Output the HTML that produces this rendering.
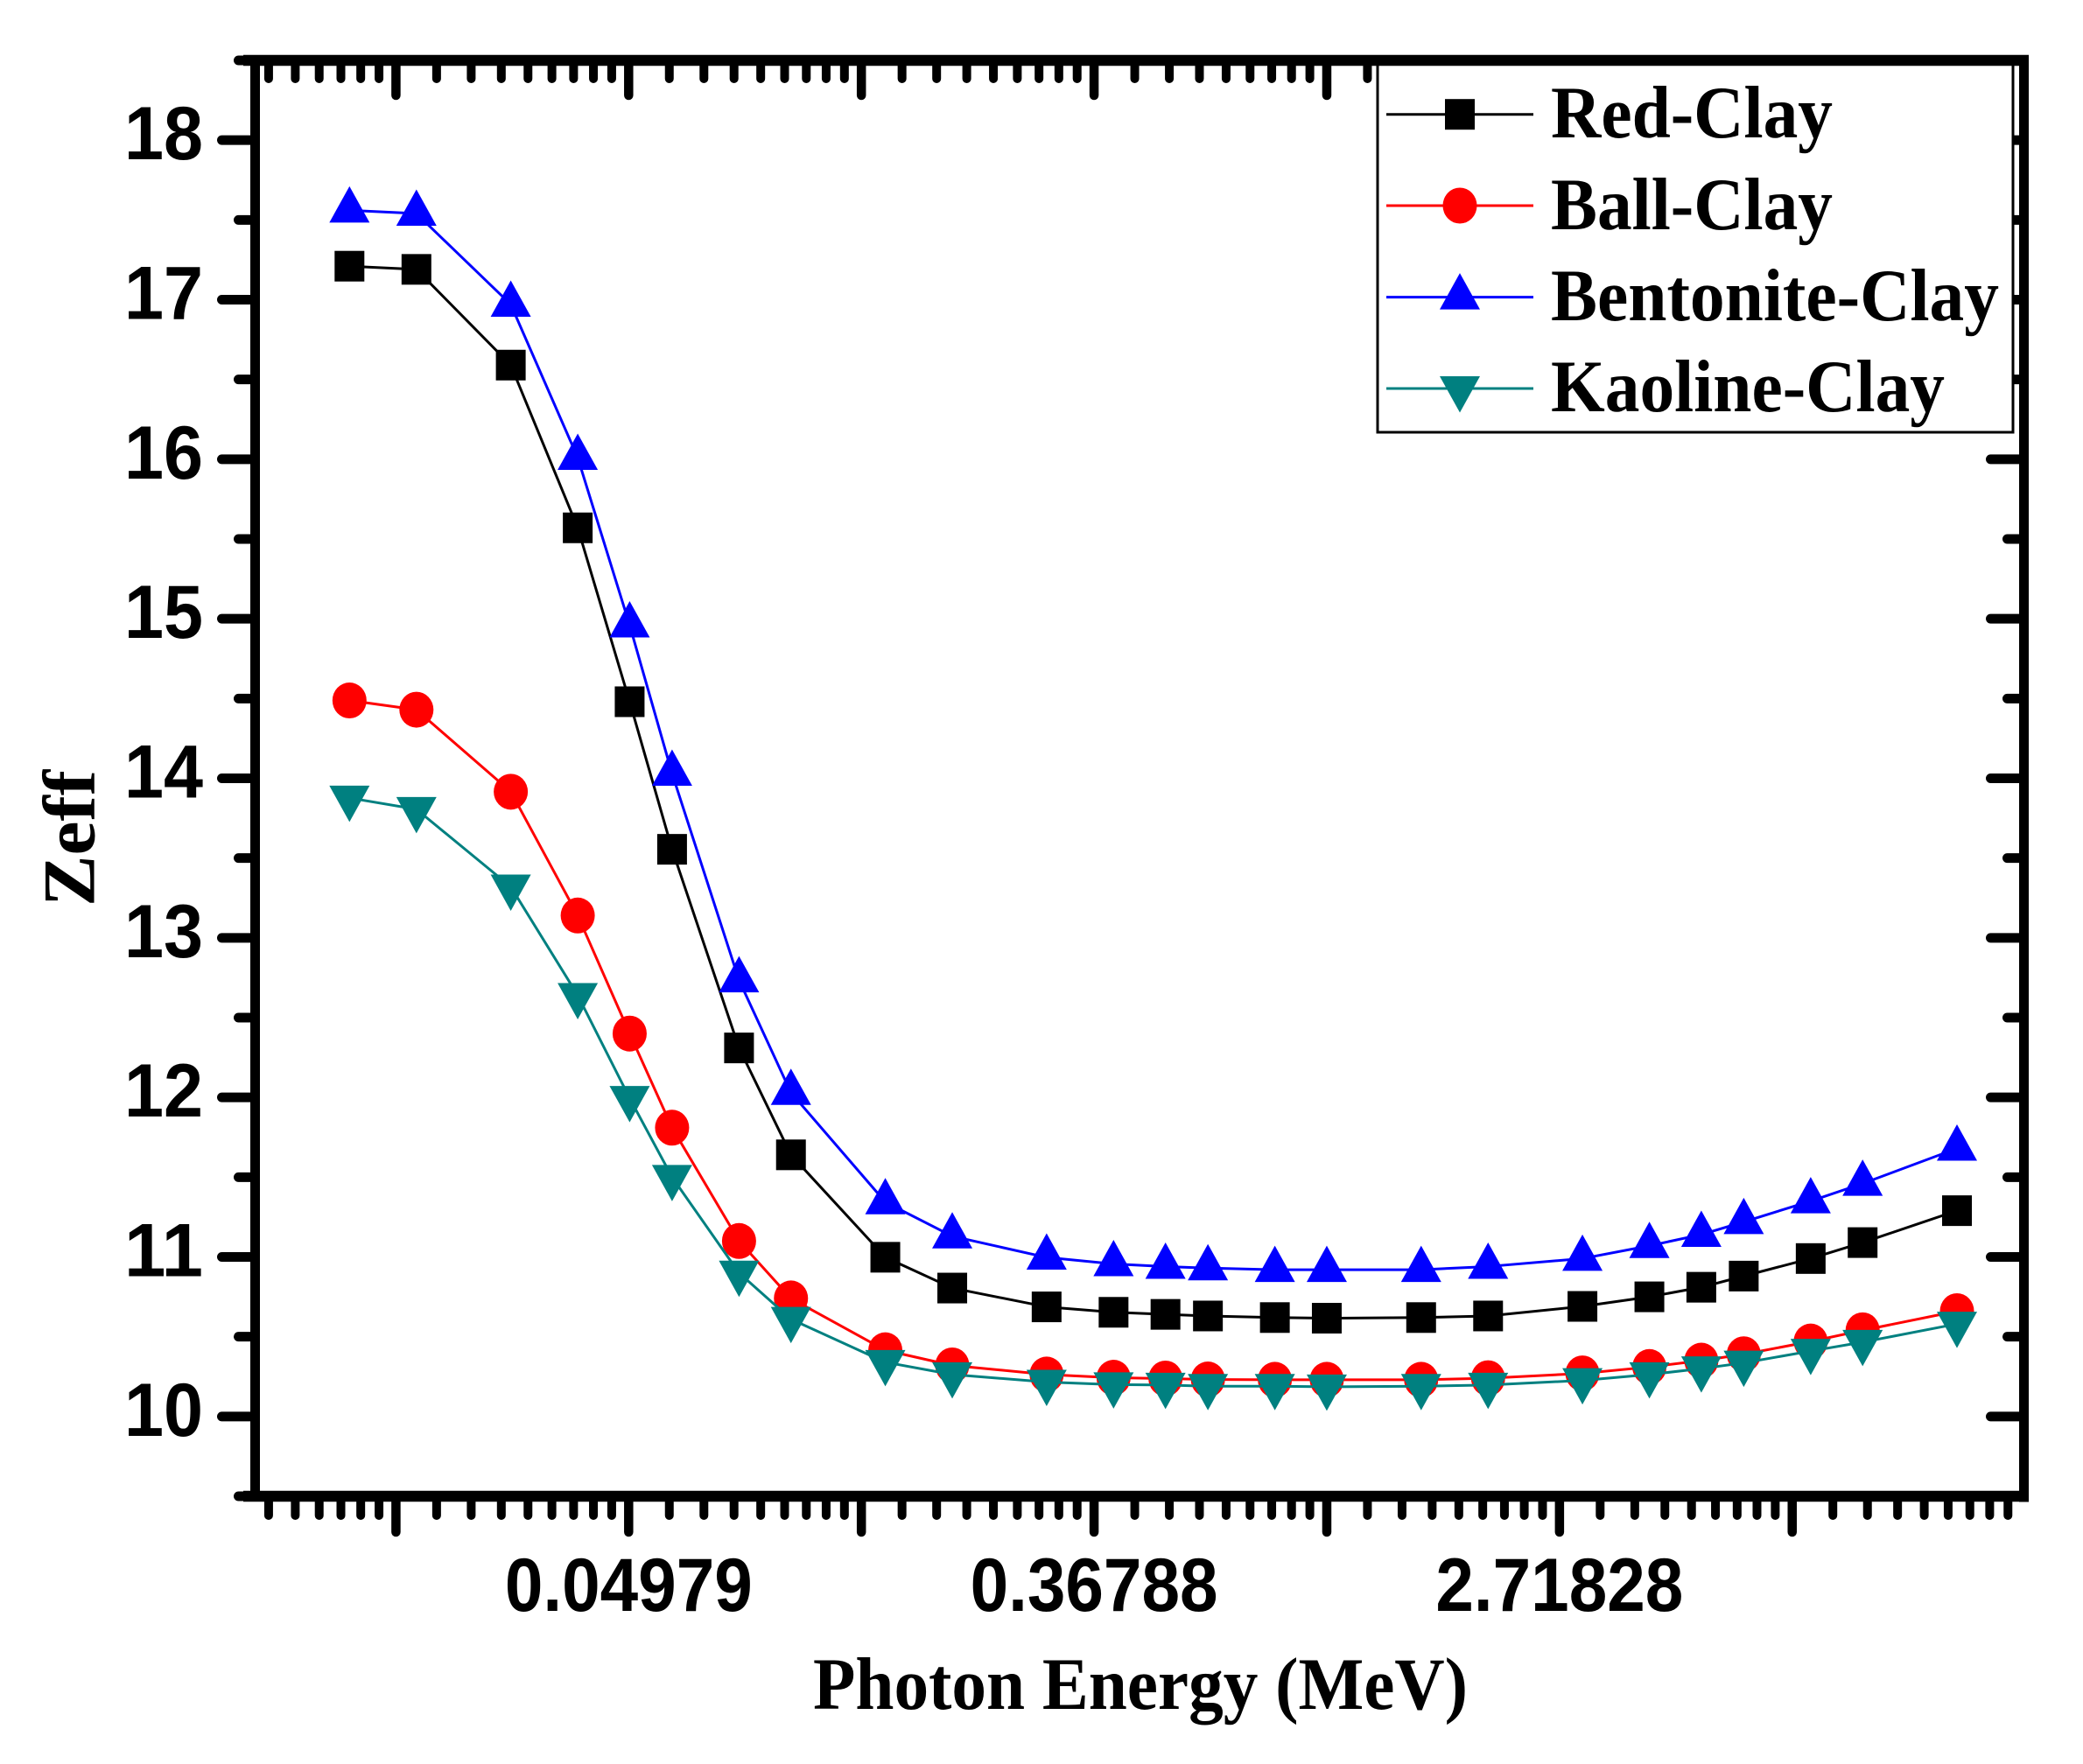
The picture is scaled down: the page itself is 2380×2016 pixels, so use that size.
<!DOCTYPE html>
<html lang="en">
<head>
<meta charset="utf-8">
<title>Zeff vs Photon Energy</title>
<style>
  html, body { margin: 0; padding: 0; background: #fff; }
  svg { display: block; }
  .serif { font-family: "Liberation Serif", serif; font-weight: 700; fill: #000; }
  .sans { font-family: "Liberation Sans", sans-serif; font-weight: 700; fill: #000; }
</style>
</head>
<body>
<svg id="chart" xmlns="http://www.w3.org/2000/svg" width="2380" height="2016" viewBox="0 0 2380 2016">
  <rect x="0" y="0" width="2380" height="2016" fill="#ffffff"/>
  <g id="ticks"></g>
  <g id="tick-labels"></g>
  <g id="series"></g>
  <g id="legend">
    <rect x="1574" y="72" width="726" height="422" fill="#ffffff" stroke="#000000" stroke-width="3"/>
    <text class="serif" x="1772" y="157" font-size="85" textLength="322" lengthAdjust="spacingAndGlyphs">Red-Clay</text>
    <text class="serif" x="1772" y="262" font-size="85" textLength="322" lengthAdjust="spacingAndGlyphs">Ball-Clay</text>
    <text class="serif" x="1772" y="366" font-size="85" textLength="512" lengthAdjust="spacingAndGlyphs">Bentonite-Clay</text>
    <text class="serif" x="1772" y="470" font-size="85" textLength="450" lengthAdjust="spacingAndGlyphs">Kaoline-Clay</text>
  </g>
  <g id="frame"></g>
  <text class="serif" x="929" y="1953" font-size="85" textLength="748" lengthAdjust="spacingAndGlyphs">Photon Energy (MeV)</text>
  <text class="serif" transform="translate(107.5,1036) rotate(-90)" x="0" y="0" font-size="85" textLength="156" lengthAdjust="spacingAndGlyphs">Zeff</text>
</svg>
<script>
// ---- chart data ----
const energies = [0.015,0.02,0.03,0.04,0.05,0.06,0.08,0.1,0.15,0.2,0.3,0.4,0.5,0.6,0.8,1,1.5,2,3,4,5,6,8,10,15];
const redClay = [17.21,17.19,16.59,15.57,14.48,13.555,12.31,11.64,10.998,10.805,10.687,10.653,10.64,10.63,10.62,10.616,10.62,10.63,10.69,10.75,10.81,10.88,10.99,11.09,11.29];
const ballClay = [14.488,14.43,13.916,13.14,12.40,11.81,11.10,10.74,10.415,10.32,10.263,10.243,10.238,10.232,10.23,10.23,10.23,10.24,10.27,10.31,10.35,10.39,10.47,10.54,10.66];
const bentoniteClay = [17.56,17.54,16.97,16.01,14.96,14.03,12.735,12.03,11.344,11.13,10.997,10.956,10.94,10.93,10.92,10.92,10.92,10.94,10.99,11.07,11.14,11.22,11.35,11.46,11.68];
const kaolineClay = [13.877,13.806,13.32,12.64,11.995,11.50,10.90,10.61,10.34,10.263,10.216,10.20,10.197,10.19,10.19,10.186,10.19,10.197,10.226,10.263,10.30,10.336,10.41,10.466,10.58];
const seriesNames = ['red-clay','ball-clay','bentonite-clay','kaoline-clay'];
const xMajorExponents = [-4,-3,-2,-1,0,1,2];
const xTickLabels = ['0.04979','0.36788','2.71828'];
const yTickLabels = [10,11,12,13,14,15,16,17,18];
const xDomain = [0.01,20];
const yDomain = [9.5,18.5];

// ---- axis functions ----
const plotLeft = 291.5, plotRight = 2312.5, plotTop = 69, plotBottom = 1710;
function xScale(v) {
  return plotLeft + (Math.log(v) - Math.log(xDomain[0])) / (Math.log(xDomain[1]) - Math.log(xDomain[0])) * (plotRight - plotLeft);
}
function yScale(v) {
  return plotBottom - (v - yDomain[0]) / (yDomain[1] - yDomain[0]) * (plotBottom - plotTop);
}

const NS = 'http://www.w3.org/2000/svg';
function make(tag, parent, attrs) {
  const el = document.createElementNS(NS, tag);
  for (const k in attrs) el.setAttribute(k, attrs[k]);
  parent.appendChild(el);
  return el;
}
function tickLine(parent, name, x1, y1, x2, y2, w) {
  const el = make('line', parent, {x1: x1, y1: y1, x2: x2, y2: y2, stroke: '#000', 'stroke-width': w, 'stroke-linecap': 'round'});
  
  
}

// ---- ticks ----
const ticksG = document.getElementById('ticks');
const labelsG = document.getElementById('tick-labels');
xMajorExponents.forEach(function (n) {
  const x = xScale(Math.exp(n));
  tickLine(ticksG, 'x-major-tick-bottom', x, plotBottom, x, 1751, 10.5);
  tickLine(ticksG, 'x-major-tick-top', x, plotTop, x, 109, 10.5);
});
for (let n = -5; n <= 2; n++) {
  const lo = Math.exp(n), hi = Math.exp(n + 1);
  for (let k = 1; k <= 8; k++) {
    const v = lo + k * (hi - lo) / 9;
    if (v < xDomain[0] || v > xDomain[1]) continue;
    const x = xScale(v);
    tickLine(ticksG, 'x-minor-tick-bottom', x, plotBottom, x, 1732, 10);
    tickLine(ticksG, 'x-minor-tick-top', x, plotTop, x, 90, 10);
  }
}
yTickLabels.forEach(function (v) {
  const y = yScale(v);
  tickLine(ticksG, 'y-major-tick-left', plotLeft, y, 253.5, y, 11);
  tickLine(ticksG, 'y-major-tick-right', plotRight, y, 2274.5, y, 11);
  const minorV = v - 0.5;
  const my = yScale(minorV);
  tickLine(ticksG, 'y-minor-tick-left', plotLeft, my, 272.5, my, 11);
  tickLine(ticksG, 'y-minor-tick-right', plotRight, my, 2293.5, my, 11);
  const t = make('text', labelsG, {x: 232, y: y + 22, 'font-size': 86, 'text-anchor': 'end', textLength: 90, lengthAdjust: 'spacingAndGlyphs', class: 'sans'});
  
  
  t.textContent = String(v);
});
tickLine(ticksG, 'y-minor-tick-left', plotLeft, yScale(18.5), 272.5, yScale(18.5), 11);
xTickLabels.forEach(function (s) {
  const t = make('text', labelsG, {x: xScale(parseFloat(s)), y: 1841, 'font-size': 86, 'text-anchor': 'middle', textLength: 283, lengthAdjust: 'spacingAndGlyphs', class: 'sans'});
  
  
  t.textContent = s;
});

// ---- markers ----
function drawMarker(parent, kind, color, cx, cy, name) {
  let el;
  if (kind === 'square') {
    el = make('rect', parent, {x: cx - 17, y: cy - 17.5, width: 34, height: 35, fill: color});
  } else if (kind === 'circle') {
    el = make('ellipse', parent, {cx: cx, cy: cy, rx: 19.5, ry: 20.5, fill: color});
  } else if (kind === 'up') {
    el = make('polygon', parent, {points: (cx) + ',' + (cy - 27.5) + ' ' + (cx - 23) + ',' + (cy + 14) + ' ' + (cx + 23) + ',' + (cy + 14), fill: color});
  } else {
    el = make('polygon', parent, {points: (cx) + ',' + (cy + 27.5) + ' ' + (cx - 23) + ',' + (cy - 14) + ' ' + (cx + 23) + ',' + (cy - 14), fill: color});
  }
  
  
}

// ---- series ----
const seriesG = document.getElementById('series');
const seriesValues = [redClay, ballClay, bentoniteClay, kaolineClay];
const seriesColors = ['#000000', '#ff0000', '#0000ff', '#008080'];
const seriesKinds = ['square', 'circle', 'up', 'down'];
seriesValues.forEach(function (vals, i) {
  const g = make('g', seriesG, {});
  
  
  const pts = vals.map(function (v, j) { return xScale(energies[j]).toFixed(2) + ',' + yScale(v).toFixed(2); }).join(' ');
  const line = make('polyline', g, {points: pts, fill: 'none', stroke: seriesColors[i], 'stroke-width': 3, 'stroke-linejoin': 'round'});
  
  
  vals.forEach(function (v, j) {
    drawMarker(g, seriesKinds[i], seriesColors[i], xScale(energies[j]), yScale(v), 'point-' + seriesNames[i]);
  });
});

// ---- legend keys ----
const legendG = document.getElementById('legend');
const legendKeyRows = [130.7, 235, 339.6, 444];
legendKeyRows.forEach(function (y, i) {
  const l = make('line', legendG, {x1: 1584, y1: y, x2: 1752, y2: y, stroke: seriesColors[i], 'stroke-width': 3});
  
  
  drawMarker(legendG, seriesKinds[i], seriesColors[i], 1668, y, 'legend-marker-' + seriesNames[i]);
});

// ---- frame ----
const frameG = document.getElementById('frame');
function frameLine(name, x1, y1, x2, y2, w) {
  const el = make('line', frameG, {x1: x1, y1: y1, x2: x2, y2: y2, stroke: '#000', 'stroke-width': w, 'stroke-linecap': 'butt'});
  
  
}
frameLine('y-axis-left', plotLeft, plotTop, plotLeft, plotBottom, 11);
frameLine('y-axis-right', plotRight, plotTop - 6, plotRight, plotBottom + 6.5, 11);
frameLine('x-axis-top', 278, plotTop, plotRight + 5.5, plotTop, 12.5);
frameLine('x-axis-bottom', 278, plotBottom, plotRight + 5.5, plotBottom, 12.5);
</script>
</body>
</html>
